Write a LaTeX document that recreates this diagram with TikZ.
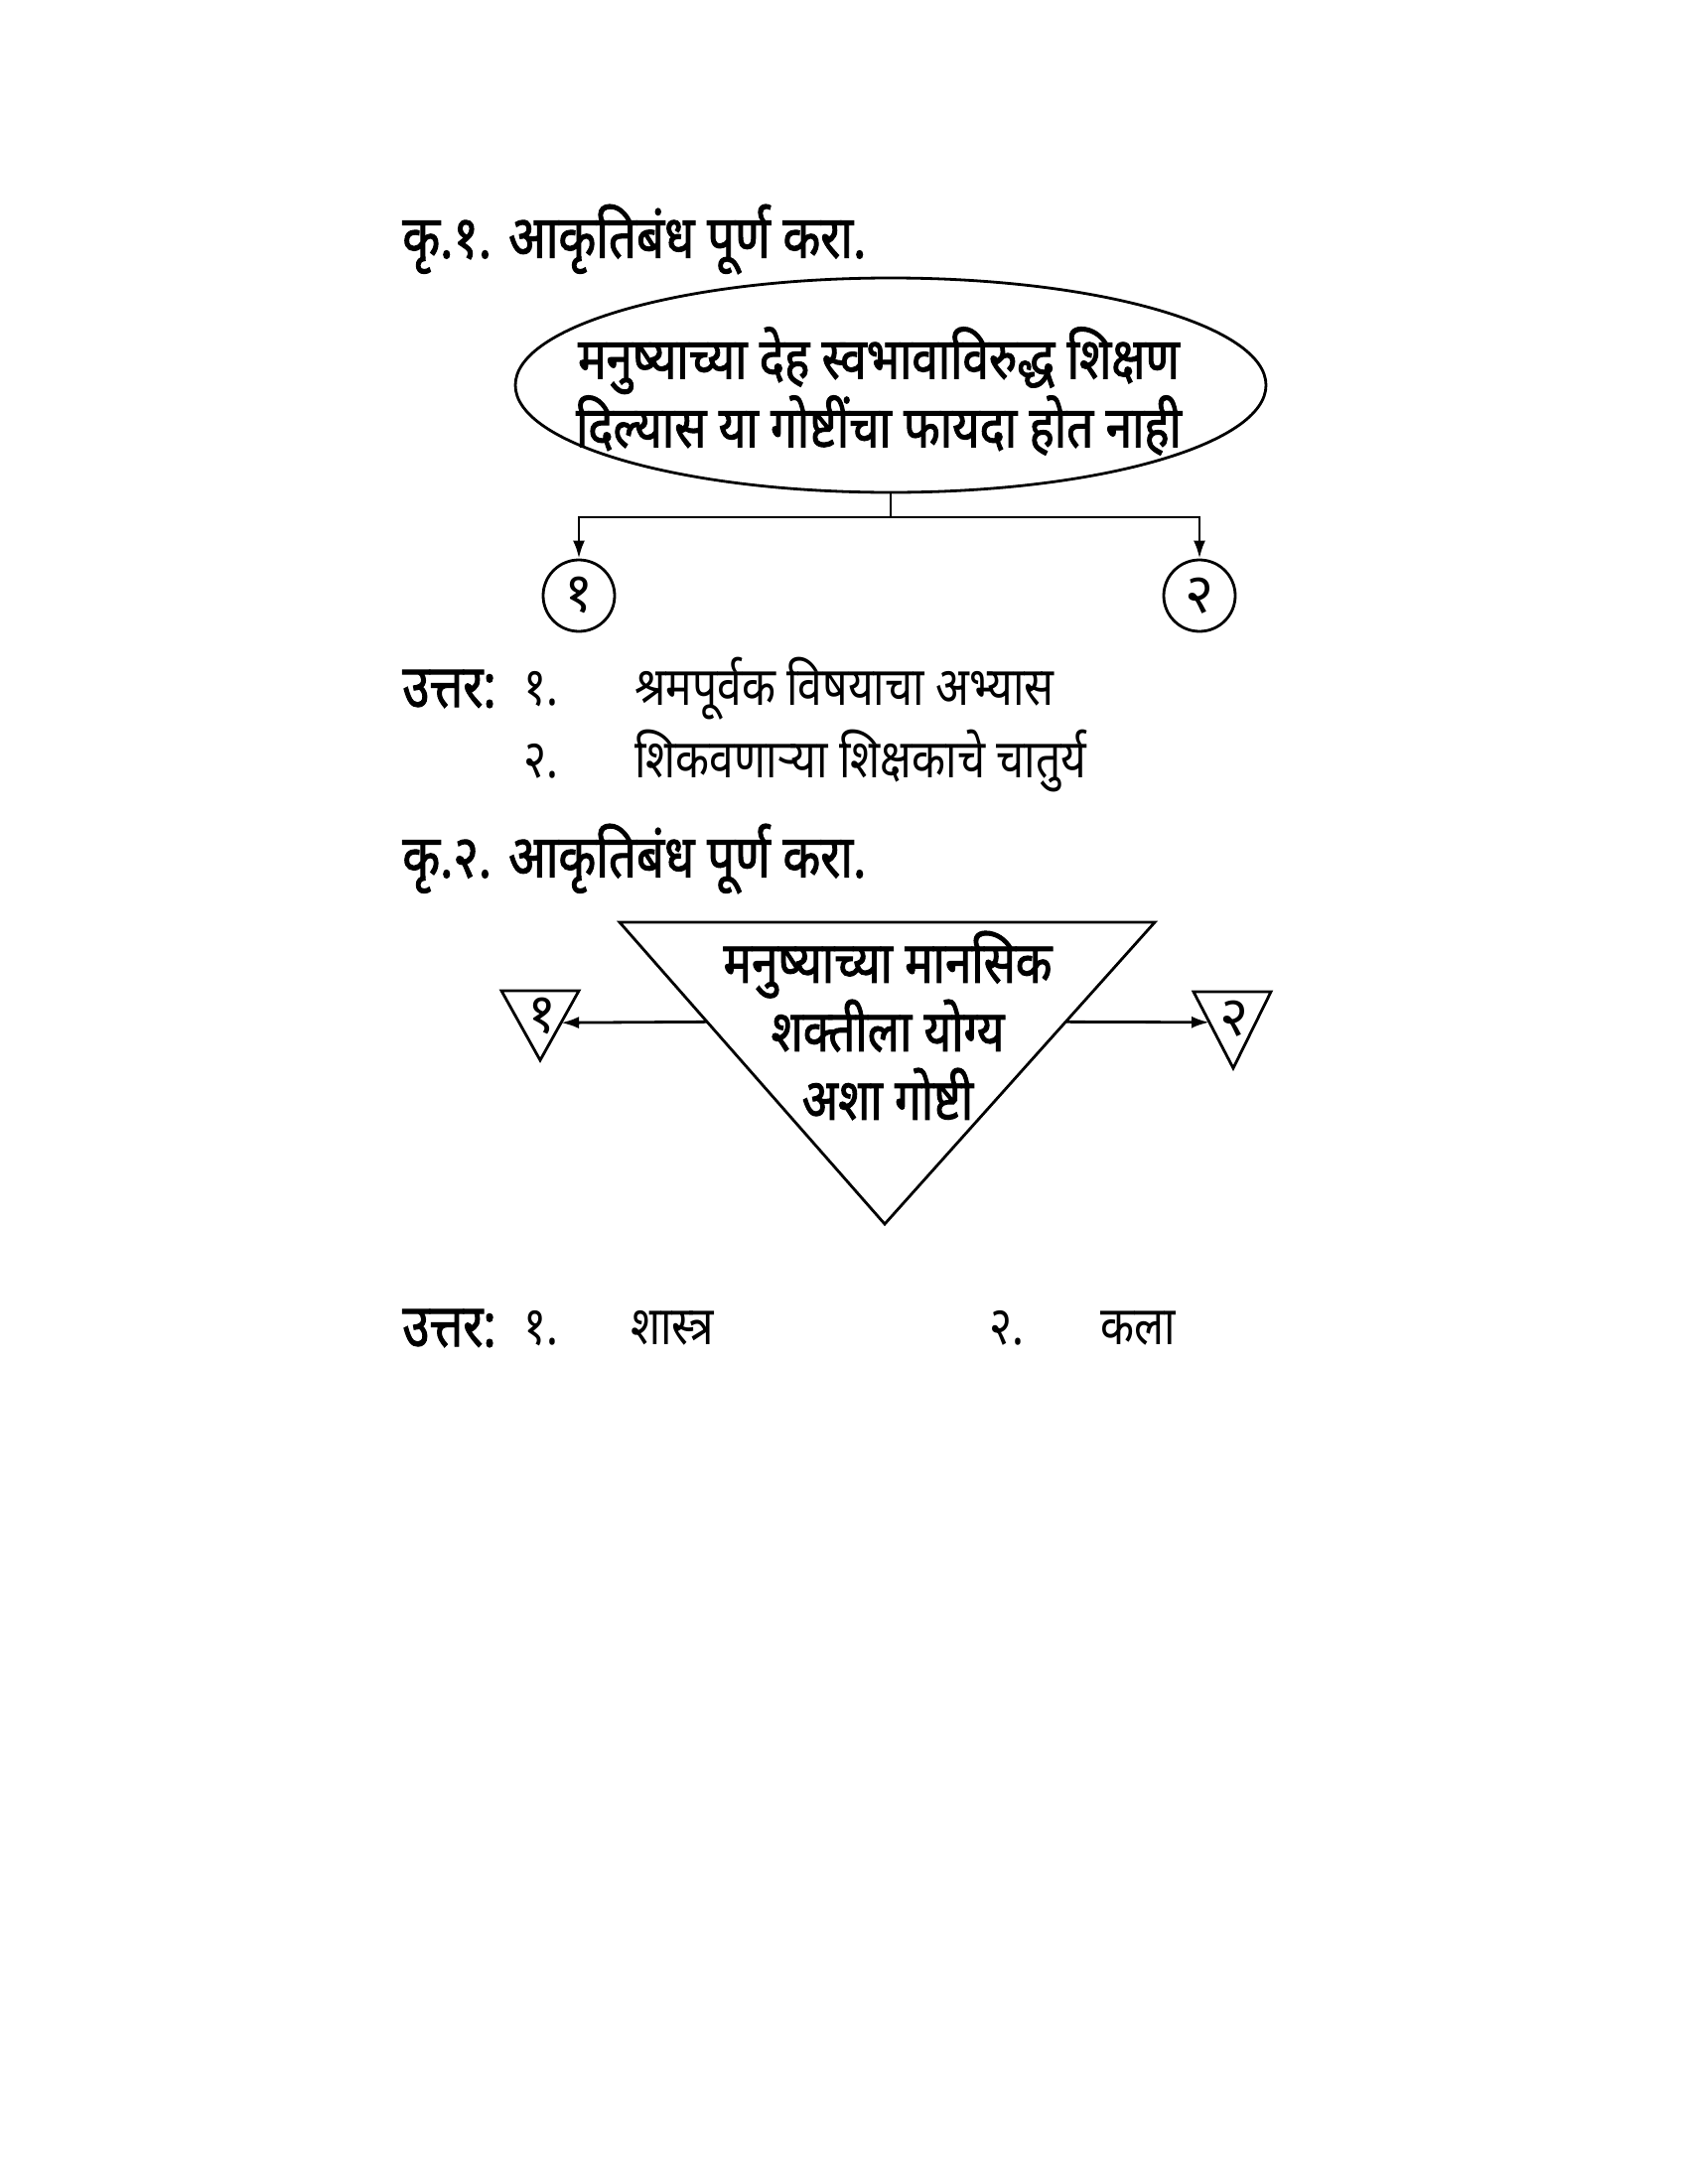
\documentclass[tikz,border=0pt]{standalone}
\usepackage{fontspec}
\usepackage{tikz}
\usetikzlibrary{shapes.geometric,calc,arrows.meta}
\newfontfamily\deva[Script=Devanagari]{Noto Sans}
\newfontfamily\devacond[Script=Devanagari,FakeStretch=0.82]{Noto Sans}
\newfontfamily\devabold[Script=Devanagari,FakeStretch=0.82,FakeBold=1.6]{Noto Sans}

\begin{document}
\begin{tikzpicture}[x=0.5pt,y=-0.5pt,line width=1.4pt,
  heading/.style={anchor=west,inner sep=0pt,font=\devabold\fontsize{30}{36}\selectfont},
  answer/.style={anchor=west,inner sep=0pt,font=\devacond\fontsize{27}{32}\selectfont},
  boxtext/.style={align=center,inner sep=0pt,font=\devabold\fontsize{29}{34.5}\selectfont},
  digit/.style={inner sep=0pt,font=\deva\fontsize{28}{30}\selectfont},
  tip/.style={-{Latex[length=9pt,width=6pt]}}]
\useasboundingbox (0,0) rectangle (1700,2200);
  % Question 1
  \node[heading] (title1) at (404,241) {कृ.१. आकृतिबंध पूर्ण करा.};
  \node[draw, ellipse, minimum width=378pt, minimum height=108pt] (topic) at (897,388) {};
  \node[boxtext] (topictext) at (885,394) {मनुष्याच्या देह स्वभावाविरुद्ध शिक्षण\\दिल्यास या गोष्टींचा फायदा होत नाही};
  \node[draw, circle, minimum size=36pt, digit] (one) at (583,600) {१};
  \node[draw, circle, minimum size=36pt, digit] (two) at (1208,600) {२};
  \coordinate (split) at (897,521);
  \draw (topic.south) -- (split);
  \draw[tip] (split) -| (one.north);
  \draw[tip] (split) -| (two.north);
  % Answer 1
  \node[heading] (ans1) at (404,694) {उत्तर:};
  \node[answer] (num11) at (526,694) {१.};
  \node[answer] (txt11) at (638,694) {श्रमपूर्वक विषयाचा अभ्यास};
  \node[answer] (num12) at (526,767) {२.};
  \node[answer] (txt12) at (638,767) {शिकवणाऱ्या शिक्षकाचे चातुर्य};
  % Question 2
  \node[heading] (title2) at (404,865) {कृ.२. आकृतिबंध पूर्ण करा.};
  \coordinate (bigL) at (624,929);
  \coordinate (bigR) at (1163,929);
  \coordinate (bigB) at (891,1233);
  \draw (bigL) -- (bigR) -- (bigB) -- cycle;
  \node[boxtext] (focus) at (894,1033) {मनुष्याच्या मानसिक\\शक्तीला योग्य\\अशा गोष्टी};
  \coordinate (aL) at (505,998);
  \coordinate (aR) at (583,998);
  \coordinate (aB) at (544,1068);
  \draw (aL) -- (aR) -- (aB) -- cycle;
  \node[digit] (first) at (546,1024) {१};
  \coordinate (bL) at (1202,999);
  \coordinate (bR) at (1280,999);
  \coordinate (bB) at (1242,1076);
  \draw (bL) -- (bR) -- (bB) -- cycle;
  \node[digit] (second) at (1243,1026) {२};
  % Arrows to answers
  \coordinate (outL) at ($(bigL)!0.33!(bigB)$);
  \coordinate (inL) at ($(aR)!0.46!(aB)$);
  \coordinate (outR) at ($(bigR)!0.33!(bigB)$);
  \coordinate (inR) at ($(bL)!0.40!(bB)$);
  \draw[tip] (outL) -- (inL);
  \draw[tip] (outR) -- (inR);
  % Answer 2
  \node[heading] (ans2) at (404,1338) {उत्तर:};
  \node[answer] (num21) at (526,1338) {१.};
  \node[answer] (txt21) at (634,1338) {शास्त्र};
  \node[answer] (num22) at (995,1338) {२.};
  \node[answer] (txt22) at (1107,1338) {कला};
\end{tikzpicture}
\end{document}
